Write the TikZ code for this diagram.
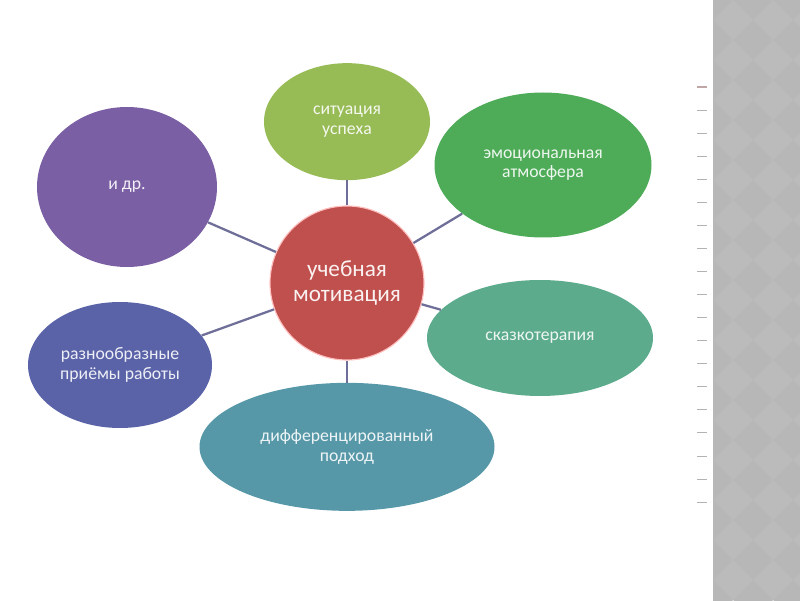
\documentclass[tikz,border=0pt]{standalone}
\usepackage{fontspec}
\setmainfont{Carlito}
\usetikzlibrary{shapes.geometric, positioning}

\definecolor{hubRed}{HTML}{C0504D}
\definecolor{successGreen}{HTML}{97BB55}
\definecolor{atmosGreen}{HTML}{4EAC58}
\definecolor{fairyTeal}{HTML}{5BAB8C}
\definecolor{diffBlue}{HTML}{5698A8}
\definecolor{methodsBlue}{HTML}{5A63A8}
\definecolor{etcPurple}{HTML}{7B5FA4}
\definecolor{spokeGray}{HTML}{6E6E98}
\definecolor{stripGray}{HTML}{BBBBBB}
\definecolor{stripDark}{HTML}{B7B7B7}

\begin{document}
\begin{tikzpicture}[
    hubCircle/.style={circle, fill=hubRed, draw=red!25, line width=0.8pt, minimum size=3.85cm, inner sep=0pt, align=center, text=white, text opacity=0.92, font=\fontsize{16.5}{18}\selectfont}, % 中心圆
    bubble/.style={ellipse, inner sep=0pt, align=center, text=white, text opacity=0.9, font=\fontsize{12.6}{13.8}\selectfont}, % 周围的椭圆
    spoke/.style={line width=1.6pt, draw=spokeGray}, % 连接短线
    tick/.style={line width=0.5pt, draw=black!30}, % 右侧小刻度
]
    % 1. 画布与右侧灰色条纹
    \useasboundingbox (0,0) rectangle (20,15);
    \fill[white] (0,0) rectangle (20,15);
    \fill[stripGray] (17.825,0) rectangle (20,15);
    \begin{scope}
        \clip (17.825,0) rectangle (20,15);
        \foreach \a in {0,...,3} {
            \foreach \b in {0,...,15} {
                \fill[stripDark] (17.825+\a,\b-0.5) -- (18.325+\a,\b) -- (17.825+\a,\b+0.5) -- (17.325+\a,\b) -- cycle;
            }
        }
    \end{scope}
    \draw[line width=1.2pt, draw=red!30!black!35] (17.43,12.825) -- (17.68,12.825);
    \foreach \k in {1,...,18} {
        \draw[tick] (17.43,12.825-\k*0.5764) -- (17.68,12.825-\k*0.5764);
    }

    % 2. 中心与周围的节点
    \node[hubCircle] (motiv) at (8.675,7.925) {учебная\\мотивация};
    \node[bubble, fill=successGreen, minimum width=4.15cm, minimum height=2.925cm, above=0.625cm of motiv] (success) {ситуация\\успеха};
    \node[bubble, fill=atmosGreen, minimum width=5.425cm, minimum height=3.625cm] (atmos) at (13.575,10.875) {эмоциональная\\атмосфера};
    \node[bubble, fill=fairyTeal, minimum width=5.65cm, minimum height=2.9cm] (fairy) at (13.5,6.55) {сказкотерапия};
    \node[bubble, fill=diffBlue, minimum width=7.375cm, minimum height=3.2cm, below=0.55cm of motiv] (diff) {дифференцированный\\подход};
    \node[bubble, fill=methodsBlue, minimum width=4.6cm, minimum height=3.15cm] (methods) at (3.0,5.875) {разнообразные\\приёмы работы};
    \node[bubble, fill=etcPurple, minimum width=4.5cm, minimum height=4.0cm] (etc) at (3.175,10.325) {и др.};

    % 3. 连线
    \draw[spoke] (motiv) -- (success);
    \draw[spoke] (motiv) -- (atmos);
    \draw[spoke] (motiv) -- (fairy);
    \draw[spoke] (motiv) -- (diff);
    \draw[spoke] (motiv) -- (methods);
    \draw[spoke] (motiv) -- (etc);
\end{tikzpicture}
\end{document}
